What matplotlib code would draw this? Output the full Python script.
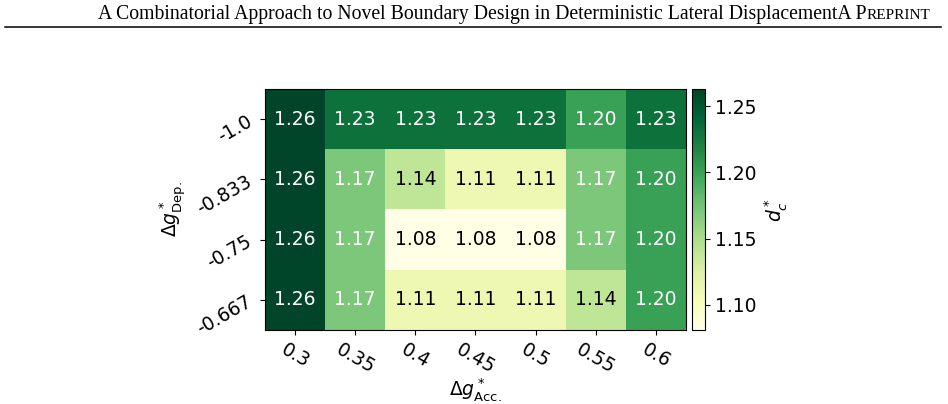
import numpy as np
import matplotlib
matplotlib.use('Agg')
import matplotlib.pyplot as plt
from matplotlib.lines import Line2D

acc_labels = ['0.3', '0.35', '0.4', '0.45', '0.5', '0.55', '0.6']
dep_labels = ['-1.0', '-0.833', '-0.75', '-0.667']

# d_c^* per row (dep) and column (acc)
row_m1000 = [1.263, 1.232, 1.232, 1.232, 1.232, 1.200, 1.232]
row_m0833 = [1.263, 1.170, 1.140, 1.110, 1.110, 1.170, 1.200]
row_m0750 = [1.263, 1.170, 1.081, 1.081, 1.081, 1.170, 1.200]
row_m0667 = [1.263, 1.170, 1.110, 1.110, 1.110, 1.140, 1.200]

data = np.array([row_m1000, row_m0833, row_m0750, row_m0667])

W, H = 948, 404
fig = plt.figure(figsize=(W / 100, H / 100), dpi=100)

# page header (small caps faked with a smaller second text)
fig.add_artist(Line2D([5 / W, 941 / W], [1 - 27 / H, 1 - 27 / H],
                      color='black', linewidth=1.1))
t2 = fig.text(930 / W, 1 - 19 / H, 'REPRINT', ha='right', va='baseline',
              family='Liberation Serif', fontsize=11)
fig.canvas.draw()
bb = t2.get_window_extent()
fig.text(bb.x0 / W, 1 - 19 / H,
         'A Combinatorial Approach to Novel Boundary Design in Deterministic Lateral DisplacementA P',
         ha='right', va='baseline', family='Liberation Serif', fontsize=14.2)

ax = fig.add_axes([265 / W, 74 / H, 421 / W, 241 / H])
cax = fig.add_axes([692 / W, 74 / H, 13 / W, 241 / H])

fs = 13.5
im = ax.imshow(data, cmap='YlGn', aspect='auto')
for i in range(data.shape[0]):
    for j in range(data.shape[1]):
        v = data[i, j]
        ax.text(j, i, f'{v:.2f}', ha='center', va='center',
                color='white' if v > 1.16 else 'black', fontsize=fs)

ax.set_xticks(range(len(acc_labels)))
ax.set_xticklabels(acc_labels, rotation=-30, ha='center', fontsize=fs)
ax.set_yticks(range(len(dep_labels)))
ax.set_yticklabels(dep_labels, rotation=30, fontsize=fs)
ax.set_xlabel(r'$\Delta g^*_{\mathrm{Acc.}}$', fontsize=fs)
ax.xaxis.set_label_coords(0.5, -0.19)
ax.set_ylabel(r'$\Delta g^*_{\mathrm{Dep.}}$', fontsize=fs)

cb = fig.colorbar(im, cax=cax)
cb.set_ticks([1.10, 1.15, 1.20, 1.25])
cb.ax.tick_params(labelsize=fs)
cb.set_label(r'$d^*_c$', fontsize=fs)

plt.savefig('out.png', dpi=100)
